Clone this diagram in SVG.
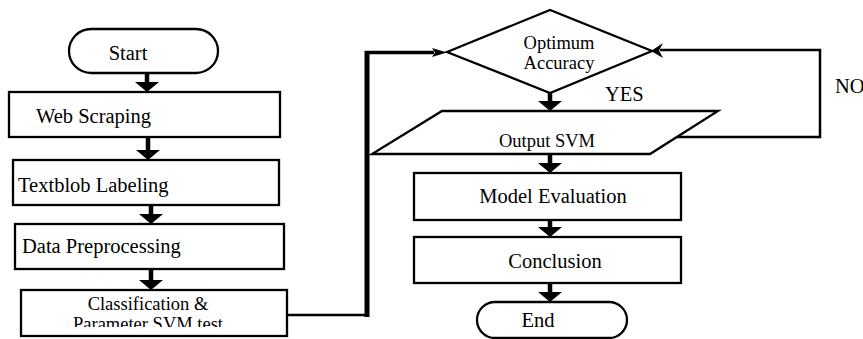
<svg xmlns="http://www.w3.org/2000/svg" xmlns:xlink="http://www.w3.org/1999/xlink" width="863" height="339" viewBox="0 0 863 339">
  <style>
    .shape { fill: #fff; stroke: #000; stroke-width: 2.3; }
    .t { font-family: "Liberation Serif", "Times New Roman", serif; fill: #000; }
    .l20 { font-size: 20.5px; }
    .l18 { font-size: 18.5px; }
    .c { text-anchor: middle; }
    .shaft { stroke: #000; stroke-width: 4.5; fill: none; }
    .conn { stroke: #000; fill: none; stroke-linejoin: miter; }
  </style>
  <defs>
    <path id="dn" d="M-12,-10 L12,-10 L0,0 Z" fill="#000"/>
    <clipPath id="clipCls">
      <rect x="0" y="280" width="300" height="47"/>
    </clipPath>
  </defs>
  <rect width="863" height="339" fill="#fff"/>

  <g id="connectors">
    <!-- left column -->
    <line class="shaft" x1="147" y1="73" x2="147" y2="84"/>
    <use xlink:href="#dn" x="147" y="92"/>
    <line class="shaft" x1="148" y1="137" x2="148" y2="152"/>
    <use xlink:href="#dn" x="148" y="160"/>
    <line class="shaft" x1="151" y1="205" x2="151" y2="216"/>
    <use xlink:href="#dn" x="151" y="224"/>
    <line class="shaft" x1="151" y1="269" x2="151" y2="282"/>
    <use xlink:href="#dn" x="151" y="290"/>
    <!-- classification to diamond -->
    <line class="conn" stroke-width="2.5" x1="283" y1="315" x2="369" y2="315"/>
    <line class="conn" stroke-width="5" x1="367" y1="317" x2="367" y2="51"/>
    <line class="conn" stroke-width="3.5" x1="365" y1="52.5" x2="434" y2="52.5"/>
    <path d="M432,48 L447,52.5 L432,57 L435,52.5 Z" fill="#000"/>
    <!-- right column -->
    <line class="shaft" x1="550" y1="93" x2="550" y2="103"/>
    <use xlink:href="#dn" x="550" y="111"/>
    <line class="shaft" x1="550" y1="154" x2="550" y2="165"/>
    <use xlink:href="#dn" x="550" y="173"/>
    <line class="shaft" x1="550" y1="220" x2="550" y2="229"/>
    <use xlink:href="#dn" x="550" y="237"/>
    <line class="shaft" x1="550" y1="283" x2="550" y2="294"/>
    <use xlink:href="#dn" x="550" y="302"/>
    <!-- NO loop -->
    <polyline class="conn" stroke-width="2.5" points="677,137 820,137 820,50 660,50"/>
    <path d="M651,51 L663,43 L659,50.5 L663,58 Z" fill="#000"/>
  </g>

  <g id="start">
    <rect class="shape" x="69" y="29" width="149" height="44" rx="22" ry="22"/>
    <text class="t l20 c" x="128" y="60">Start</text>
  </g>

  <g id="web-scraping">
    <rect class="shape" x="9" y="92" width="271" height="45"/>
    <text class="t l20" x="36" y="123">Web Scraping</text>
  </g>

  <g id="textblob-labeling">
    <rect class="shape" x="13" y="160" width="266" height="45"/>
    <text class="t l20" x="18" y="192">Textblob Labeling</text>
  </g>

  <g id="data-preprocessing">
    <rect class="shape" x="15" y="224" width="269" height="45"/>
    <text class="t l20" x="22" y="253">Data Preprocessing</text>
  </g>

  <g id="classification">
    <rect class="shape" x="21" y="290" width="266" height="46"/>
    <g clip-path="url(#clipCls)">
      <text class="t l18 c" x="148" y="310">Classification &amp;</text>
      <text class="t l18 c" x="148" y="330">Parameter SVM test</text>
    </g>
  </g>

  <g id="optimum-accuracy">
    <polygon class="shape" points="447,52 550,10 652,51 550,93"/>
    <text class="t l18 c" x="559" y="49">Optimum</text>
    <text class="t l18 c" x="559" y="69">Accuracy</text>
  </g>

  <g id="output-svm">
    <polygon class="shape" points="442,111 718,111 650,154 372,154"/>
    <text class="t l18 c" x="547" y="147">Output SVM</text>
  </g>

  <g id="model-evaluation">
    <rect class="shape" x="414" y="173" width="267" height="47"/>
    <text class="t l20 c" x="553" y="203">Model Evaluation</text>
  </g>

  <g id="conclusion">
    <rect class="shape" x="414" y="237" width="267" height="46"/>
    <text class="t l20 c" x="555" y="268">Conclusion</text>
  </g>

  <g id="end">
    <rect class="shape" x="477" y="302" width="150" height="36" rx="18" ry="18"/>
    <text class="t l20 c" x="538" y="327">End</text>
  </g>

  <g id="labels">
    <text class="t l20" x="605" y="101">YES</text>
    <text class="t l20" x="835" y="93">NO</text>
  </g>
</svg>
